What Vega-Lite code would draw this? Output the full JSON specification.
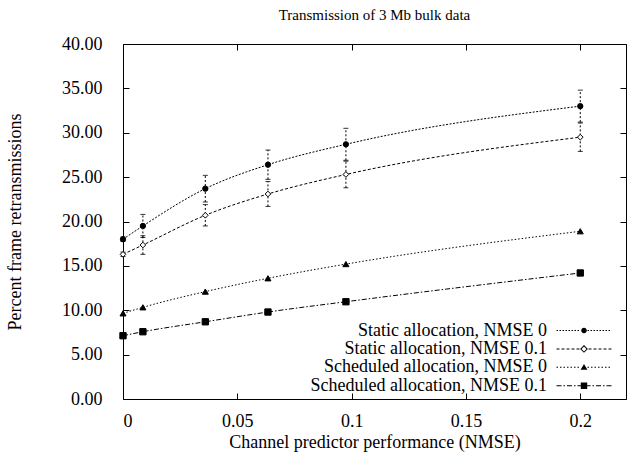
{
  "$schema": "https://vega.github.io/schema/vega-lite/v6.json",
  "width": 503,
  "height": 355,
  "autosize": "none",
  "padding": {"left": 123, "top": 44, "right": 3, "bottom": 60},
  "background": "white",
  "title": {"text": "Transmission of 3 Mb bulk data", "font": "Liberation Serif", "fontSize": 15, "fontWeight": "normal", "color": "black", "anchor": "middle", "offset": 12},
  "config": {
    "font": "Liberation Serif",
    "title": {"font": "Liberation Serif", "fontWeight": "normal"},
    "view": {"stroke": "black", "strokeWidth": 1},
    "axis": {"grid": false, "domain": false, "tickColor": "black", "tickSize": -6, "tickWidth": 1, "labelColor": "black", "labelFont": "Liberation Serif", "labelFontSize": 18, "titleFont": "Liberation Serif", "titleFontSize": 18, "titleFontWeight": "normal", "titleColor": "black"}
  },
  "datasets": {
    "pts": [
      {"series": "Static allocation, NMSE 0", "x": 0, "y": 18.0},
      {"series": "Static allocation, NMSE 0", "x": 0.0087, "y": 19.5},
      {"series": "Static allocation, NMSE 0", "x": 0.036, "y": 23.7},
      {"series": "Static allocation, NMSE 0", "x": 0.0634, "y": 26.4},
      {"series": "Static allocation, NMSE 0", "x": 0.0975, "y": 28.7},
      {"series": "Static allocation, NMSE 0", "x": 0.2, "y": 33.0},
      {"series": "Static allocation, NMSE 0.1", "x": 0, "y": 16.3},
      {"series": "Static allocation, NMSE 0.1", "x": 0.0087, "y": 17.35},
      {"series": "Static allocation, NMSE 0.1", "x": 0.036, "y": 20.7},
      {"series": "Static allocation, NMSE 0.1", "x": 0.0634, "y": 23.1},
      {"series": "Static allocation, NMSE 0.1", "x": 0.0975, "y": 25.3},
      {"series": "Static allocation, NMSE 0.1", "x": 0.2, "y": 29.5},
      {"series": "Scheduled allocation, NMSE 0", "x": 0, "y": 9.65},
      {"series": "Scheduled allocation, NMSE 0", "x": 0.0087, "y": 10.33},
      {"series": "Scheduled allocation, NMSE 0", "x": 0.036, "y": 12.1},
      {"series": "Scheduled allocation, NMSE 0", "x": 0.0634, "y": 13.6},
      {"series": "Scheduled allocation, NMSE 0", "x": 0.0975, "y": 15.2},
      {"series": "Scheduled allocation, NMSE 0", "x": 0.2, "y": 18.9},
      {"series": "Scheduled allocation, NMSE 0.1", "x": 0, "y": 7.13},
      {"series": "Scheduled allocation, NMSE 0.1", "x": 0.0087, "y": 7.58},
      {"series": "Scheduled allocation, NMSE 0.1", "x": 0.036, "y": 8.7},
      {"series": "Scheduled allocation, NMSE 0.1", "x": 0.0634, "y": 9.8},
      {"series": "Scheduled allocation, NMSE 0.1", "x": 0.0975, "y": 10.96},
      {"series": "Scheduled allocation, NMSE 0.1", "x": 0.2, "y": 14.2}
    ],
    "err": [
      {"series": "Static allocation, NMSE 0", "x": 0, "lo": 17.75, "hi": 18.25},
      {"series": "Static allocation, NMSE 0", "x": 0.0087, "lo": 18.2, "hi": 20.8},
      {"series": "Static allocation, NMSE 0", "x": 0.036, "lo": 22.2, "hi": 25.2},
      {"series": "Static allocation, NMSE 0", "x": 0.0634, "lo": 24.75, "hi": 28.05},
      {"series": "Static allocation, NMSE 0", "x": 0.0975, "lo": 26.9, "hi": 30.5},
      {"series": "Static allocation, NMSE 0", "x": 0.2, "lo": 31.2, "hi": 34.8},
      {"series": "Static allocation, NMSE 0.1", "x": 0, "lo": 16.05, "hi": 16.55},
      {"series": "Static allocation, NMSE 0.1", "x": 0.0087, "lo": 16.3, "hi": 18.4},
      {"series": "Static allocation, NMSE 0.1", "x": 0.036, "lo": 19.5, "hi": 21.9},
      {"series": "Static allocation, NMSE 0.1", "x": 0.0634, "lo": 21.7, "hi": 24.5},
      {"series": "Static allocation, NMSE 0.1", "x": 0.0975, "lo": 23.8, "hi": 26.8},
      {"series": "Static allocation, NMSE 0.1", "x": 0.2, "lo": 27.9, "hi": 31.1}
    ]
  },
  "resolve": {"axis": {"x": "independent", "y": "independent"}, "scale": {"shape": "independent"}},
  "layer": [
    {
      "data": {"name": "pts"},
      "mark": {"type": "line", "color": "black", "strokeWidth": 1, "interpolate": "monotone"},
      "encoding": {
        "x": {"field": "x", "type": "quantitative", "scale": {"domain": [0, 0.22], "nice": false, "zero": false},
              "axis": {"orient": "bottom", "values": [0, 0.05, 0.1, 0.15, 0.2], "format": "~g", "labelPadding": 19, "title": "Channel predictor performance (NMSE)", "titlePadding": 3}},
        "y": {"field": "y", "type": "quantitative", "scale": {"domain": [0, 40], "nice": false},
              "axis": {"orient": "left", "values": [0, 5, 10, 15, 20, 25, 30, 35, 40], "format": ".2f", "labelPadding": 27, "title": "Percent frame retransmissions", "titlePadding": 37}},
        "strokeDash": {"field": "series", "type": "nominal",
          "scale": {"domain": ["Static allocation, NMSE 0", "Static allocation, NMSE 0.1", "Scheduled allocation, NMSE 0", "Scheduled allocation, NMSE 0.1"],
                    "range": [[2, 1.5], [3, 2], [1.5, 2], [5, 2, 1.5, 2]]},
          "legend": null}
      }
    },
    {
      "data": {"name": "err"},
      "mark": {"type": "rule", "color": "black", "strokeWidth": 1, "strokeDash": [2, 2]},
      "encoding": {
        "x": {"field": "x", "type": "quantitative", "axis": null},
        "y": {"field": "lo", "type": "quantitative", "axis": null},
        "y2": {"field": "hi"}
      }
    },
    {
      "data": {"name": "err"},
      "mark": {"type": "tick", "color": "black", "orient": "horizontal", "size": 5, "thickness": 1, "opacity": 0.8},
      "encoding": {
        "x": {"field": "x", "type": "quantitative", "axis": null},
        "y": {"field": "lo", "type": "quantitative", "axis": null}
      }
    },
    {
      "data": {"name": "err"},
      "mark": {"type": "tick", "color": "black", "orient": "horizontal", "size": 5, "thickness": 1, "opacity": 0.8},
      "encoding": {
        "x": {"field": "x", "type": "quantitative", "axis": null},
        "y": {"field": "hi", "type": "quantitative", "axis": null}
      }
    },
    {
      "data": {"name": "pts"},
      "mark": {"type": "point", "filled": true, "stroke": "black", "strokeWidth": 1, "opacity": 1},
      "encoding": {
        "x": {"field": "x", "type": "quantitative",
              "axis": {"orient": "top", "values": [0, 0.05, 0.1, 0.15, 0.2], "labels": false, "title": null}},
        "y": {"field": "y", "type": "quantitative",
              "axis": {"orient": "right", "values": [0, 5, 10, 15, 20, 25, 30, 35, 40], "labels": false, "title": null}},
        "shape": {"field": "series", "type": "nominal",
          "scale": {"domain": ["Static allocation, NMSE 0", "Static allocation, NMSE 0.1", "Scheduled allocation, NMSE 0", "Scheduled allocation, NMSE 0.1"],
                    "range": ["circle", "diamond", "triangle-up", "square"]}, "legend": null},
        "fill": {"field": "series", "type": "nominal",
          "scale": {"domain": ["Static allocation, NMSE 0", "Static allocation, NMSE 0.1", "Scheduled allocation, NMSE 0", "Scheduled allocation, NMSE 0.1"],
                    "range": ["black", "white", "black", "black"]}, "legend": null},
        "size": {"field": "series", "type": "nominal",
          "scale": {"domain": ["Static allocation, NMSE 0", "Static allocation, NMSE 0.1", "Scheduled allocation, NMSE 0", "Scheduled allocation, NMSE 0.1"],
                    "range": [28, 40, 24, 30]}, "legend": null}
      }
    },
    {
      "data": {"name": "pts"},
      "mark": {"type": "point", "filled": true, "color": "black", "opacity": 0},
      "encoding": {
        "x": {"field": "x", "type": "quantitative", "axis": null},
        "y": {"field": "y", "type": "quantitative", "axis": null},
        "shape": {"field": "series", "type": "nominal",
          "scale": {"domain": ["Static allocation, NMSE 0", "Static allocation, NMSE 0.1", "Scheduled allocation, NMSE 0", "Scheduled allocation, NMSE 0.1"],
                    "range": [
                      "M-27.5,-0.5h1.5v1h-1.5ZM-24.5,-0.5h1.5v1h-1.5ZM-21.5,-0.5h1.5v1h-1.5ZM-18.5,-0.5h1.5v1h-1.5ZM-15.5,-0.5h1.5v1h-1.5ZM-12.5,-0.5h1.5v1h-1.5ZM-9.5,-0.5h1.5v1h-1.5ZM-6.5,-0.5h1.5v1h-1.5ZM3.5,-0.5h1.5v1h-1.5ZM6.5,-0.5h1.5v1h-1.5ZM9.5,-0.5h1.5v1h-1.5ZM12.5,-0.5h1.5v1h-1.5ZM15.5,-0.5h1.5v1h-1.5ZM18.5,-0.5h1.5v1h-1.5ZM21.5,-0.5h1.5v1h-1.5ZM24.5,-0.5h1.5v1h-1.5ZM-2.8,0A2.8,2.8 0 1,1 2.8,0A2.8,2.8 0 1,1 -2.8,0Z",
                      "M-27.5,-0.5h3v1h-3ZM-22.5,-0.5h3v1h-3ZM-17.5,-0.5h3v1h-3ZM-12.5,-0.5h3v1h-3ZM-7.5,-0.5h3v1h-3ZM4.5,-0.5h3v1h-3ZM9.5,-0.5h3v1h-3ZM14.5,-0.5h3v1h-3ZM19.5,-0.5h3v1h-3ZM24.5,-0.5h3v1h-3ZM0,-3.9L3.9,0L0,3.9L-3.9,0ZM0,-2.5L-2.5,0L0,2.5L2.5,0Z",
                      "M-27.5,-0.5h1.5v1h-1.5ZM-24,-0.5h1.5v1h-1.5ZM-20.5,-0.5h1.5v1h-1.5ZM-17,-0.5h1.5v1h-1.5ZM-13.5,-0.5h1.5v1h-1.5ZM-10,-0.5h1.5v1h-1.5ZM-6.5,-0.5h1.5v1h-1.5ZM3.5,-0.5h1.5v1h-1.5ZM7,-0.5h1.5v1h-1.5ZM10.5,-0.5h1.5v1h-1.5ZM14,-0.5h1.5v1h-1.5ZM17.5,-0.5h1.5v1h-1.5ZM21,-0.5h1.5v1h-1.5ZM24.5,-0.5h1.5v1h-1.5ZM0,-3.4L3.4,2.4L-3.4,2.4Z",
                      "M-27.5,-0.5h5v1h-5ZM-20.5,-0.5h1.5v1h-1.5ZM-17,-0.5h5v1h-5ZM-10,-0.5h1.5v1h-1.5ZM-6.5,-0.5h5v1h-5ZM1.5,-0.5h5v1h-5ZM8.5,-0.5h1.5v1h-1.5ZM12,-0.5h5v1h-5ZM19,-0.5h1.5v1h-1.5ZM22.5,-0.5h5v1h-5ZM-3.2,-3.2H3.2V3.2H-3.2Z"
                    ]},
          "legend": {
            "orient": "none", "legendX": 452, "legendY": 277.5, "title": null, "padding": 0,
            "labelFont": "Liberation Serif", "labelFontSize": 18, "labelColor": "black", "labelAlign": "right", "labelBaseline": "middle",
            "labelOffset": -46, "labelLimit": 400, "symbolSize": 4, "symbolFillColor": "black", "symbolOpacity": 1, "rowPadding": 0.4
          }}
      }
    }
  ]
}
